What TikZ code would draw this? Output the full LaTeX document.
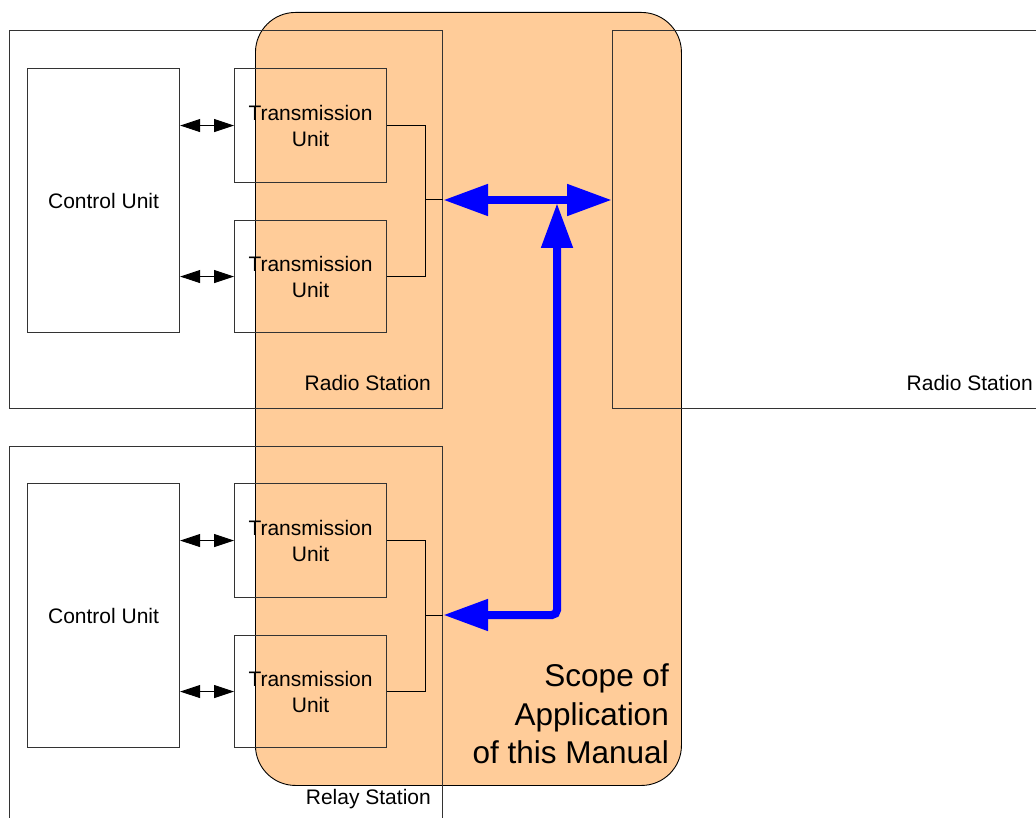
\documentclass[tikz,border=0pt]{standalone}
\usepackage{fontspec}
\setmainfont{Liberation Sans}
\usetikzlibrary{arrows.meta}
\definecolor{scopeor}{HTML}{FFCC99}
\definecolor{lineg}{HTML}{333333}
\tikzset{
  boxline/.style={draw=lineg, line width=1.1pt},
  frame/.style={boxline, anchor=north west, inner sep=0pt},
  unitbox/.style={boxline, anchor=north west, inner sep=0pt, minimum width=152pt, align=center, font=\fontsize{21}{26}\selectfont},
  lbl/.style={anchor=east, inner sep=0pt, font=\fontsize{21}{26}\selectfont},
  smallarr/.style={black, line width=1pt, {Triangle[length=20pt,width=13pt]}-{Triangle[length=20pt,width=13pt]}},
  bigarr/.style={blue, line width=8pt, {Triangle[length=45pt,width=30pt]}-{Triangle[length=45pt,width=30pt]}},
  joinline/.style={draw=black, line width=1pt},
}
\begin{document}
\begin{tikzpicture}[x=1pt,y=-1pt]
\useasboundingbox (0,0) rectangle (1036,818);
\clip (0,0) rectangle (1036,818);
% scope region
\node[fill=scopeor, draw=black, line width=0.9pt, rounded corners=40pt, anchor=north west, minimum width=426pt, minimum height=773pt, inner sep=0pt] (scope) at (255,12) {};
% stations
\node[frame, minimum width=433pt, minimum height=378pt] (rs1) at (9,30) {};
\node[frame, minimum width=500pt, minimum height=378pt] (rs2) at (612,30) {};
\node[frame, minimum width=433pt, minimum height=420pt] (rel) at (9,446) {};
\node[lbl] (rs1l) at (431,383) {Radio Station};
\node[lbl] (rs2l) at (1033,383) {Radio Station};
\node[lbl] (rell) at (431,799) {Relay Station};
% control units
\node[unitbox, minimum height=264pt] (cu1) at (27,68) {Control Unit};
\node[unitbox, minimum height=264pt] (cu2) at (27,483) {Control Unit};
% transmission units
\node[unitbox, minimum height=114pt] (tu1) at (234,68) {Transmission\\Unit};
\node[unitbox, minimum height=112pt] (tu2) at (234,220) {Transmission\\Unit};
\node[unitbox, minimum height=114pt] (tu3) at (234,483) {Transmission\\Unit};
\node[unitbox, minimum height=112pt] (tu4) at (234,635) {Transmission\\Unit};
% small arrows
\draw[smallarr] (cu1.east |- tu1.east) -- (tu1.west);
\draw[smallarr] (cu1.east |- tu2.east) -- (tu2.west);
\draw[smallarr] (cu2.east |- tu3.east) -- (tu3.west);
\draw[smallarr] (cu2.east |- tu4.east) -- (tu4.west);
% join lines
\coordinate (j1) at (425,200);
\coordinate (j2) at (425,615);
\draw[joinline] (tu1.east) -| (j1);
\draw[joinline] (tu2.east) -| (j1);
\draw[joinline] (j1) -- (rs1.east |- j1);
\draw[joinline] (tu3.east) -| (j2);
\draw[joinline] (tu4.east) -| (j2);
\draw[joinline] (j2) -- (rel.east |- j2);
% blue arrows
\coordinate (vtop) at (557,203);
\coordinate (vbot) at (557,615);
\draw[bigarr] (rs1.east |- j1) -- (rs2.west |- j1);
\draw[bigarr, rounded corners=5pt] (vtop) -- (vbot) -- (rel.east |- j2);
% scope text
\node[anchor=east, align=right, inner sep=0pt, font=\fontsize{31.5}{38.5}\selectfont] (scopetxt) at (669,714) {Scope of\\Application\\of this Manual};
\end{tikzpicture}
\end{document}
